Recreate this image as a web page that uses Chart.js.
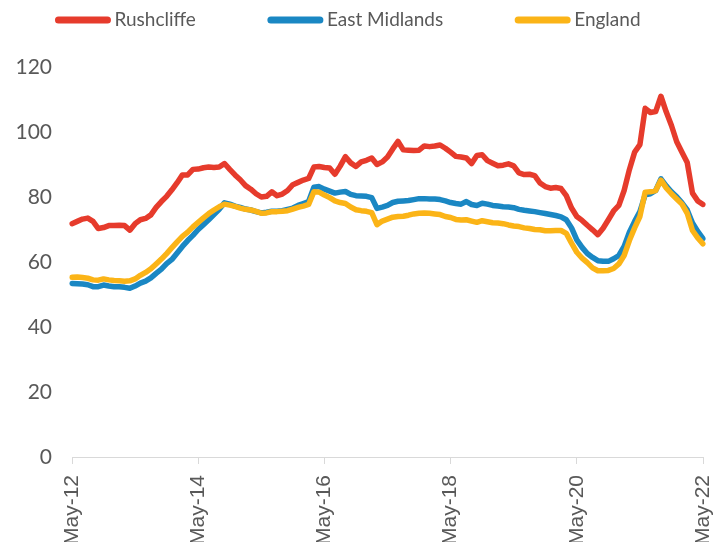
<!DOCTYPE html>
<html>
<head>
<meta charset="utf-8">
<script src="https://cdn.jsdelivr.net/npm/chart.js@4"></script>
<style>
    html, body { margin: 0; padding: 0; overflow: hidden; background: #fff; }
    canvas { display: block; }
</style>
</head>
<body>
<canvas id="chart" width="724" height="560"></canvas>
<script>
// monthly categories May-12 .. May-22
const monthNames = ['Jan', 'Feb', 'Mar', 'Apr', 'May', 'Jun', 'Jul', 'Aug', 'Sep', 'Oct', 'Nov', 'Dec'];
const categories = [];
for (let i = 0; i <= 120; i++) {
    const m = (4 + i) % 12;
    const y = 12 + Math.floor((4 + i) / 12);
    categories.push(monthNames[m] + '-' + y);
}

// ticks shown on the x axis
const tickLabels = ['May-12', 'May-14', 'May-16', 'May-18', 'May-20', 'May-22'];
const yTicks = [0, 20, 40, 60, 80, 100, 120];

const rushcliffe = [
    71.8, 72.5, 73.2, 73.5, 72.5, 70.3, 70.6, 71.2, 71.2, 71.3,
    71.2, 69.8, 71.8, 73.0, 73.4, 74.5, 76.8, 78.6, 80.2, 82.2,
    84.4, 86.8, 86.8, 88.5, 88.6, 89.0, 89.2, 89.1, 89.2, 90.3,
    88.5, 86.8, 85.3, 83.5, 82.4, 81.0, 80.0, 80.2, 81.6, 80.4,
    80.9, 82.0, 83.8, 84.5, 85.2, 85.7, 89.2, 89.4, 89.1, 88.9,
    87.0, 89.5, 92.4, 90.5, 89.4, 90.8, 91.3, 92.0, 90.0, 90.8,
    92.3, 94.8, 97.1, 94.5, 94.4, 94.3, 94.4, 95.7, 95.5, 95.7,
    96.0, 95.0, 93.8, 92.5, 92.3, 92.0, 90.3, 92.8, 93.0, 91.2,
    90.4, 89.6, 89.8, 90.2, 89.6, 87.4, 86.9, 87.0, 86.6, 84.3,
    83.2, 82.7, 82.9, 82.6, 80.4, 76.6, 74.0, 72.8, 71.3, 69.9,
    68.4, 70.4, 73.0, 75.7, 77.4, 82.0, 88.4, 93.8, 96.1, 107.3,
    106.0, 106.3, 111.0, 106.2, 102.0, 97.0, 93.8, 90.6, 81.2, 78.8,
    77.7
];

const eastMidlands = [
    53.4, 53.3, 53.2, 53.0, 52.4, 52.4, 52.9, 52.6, 52.4, 52.4,
    52.2, 51.9, 52.6, 53.5, 54.1, 55.1, 56.5, 57.8, 59.5, 60.8,
    62.8, 64.8, 66.6, 68.2, 70.0, 71.5, 73.0, 74.6, 76.2, 78.2,
    77.8, 77.2, 76.8, 76.3, 76.0, 75.5, 75.1, 75.3, 75.6, 75.6,
    75.8, 76.2, 76.6, 77.4, 78.0, 78.6, 83.0, 83.2, 82.4, 81.8,
    81.2, 81.5, 81.7, 80.8, 80.4, 80.3, 80.2, 79.8, 76.5, 76.9,
    77.4, 78.3, 78.7, 78.8, 78.9, 79.2, 79.5, 79.5, 79.4, 79.4,
    79.2, 78.8, 78.3, 78.0, 77.8, 78.6, 77.7, 77.4, 78.1, 77.8,
    77.4, 77.2, 77.0, 76.9, 76.7, 76.2, 75.9, 75.7, 75.5, 75.2,
    74.9, 74.6, 74.3, 73.9, 73.0, 70.5, 66.8, 64.5, 62.6, 61.4,
    60.4, 60.2, 60.2, 61.0, 62.0, 64.8, 69.2, 72.5, 75.5, 80.7,
    81.0, 82.0, 85.6, 83.4, 81.6, 80.1, 78.2, 76.0, 72.0, 69.4,
    67.2
];

const england = [
    55.3, 55.4, 55.2, 55.0, 54.5, 54.4, 54.8, 54.5, 54.3, 54.2,
    54.1, 54.2, 54.8, 55.9, 56.8, 57.9, 59.4, 60.9, 62.6, 64.4,
    66.2, 67.9, 69.2, 70.8, 72.2, 73.6, 74.9, 76.0, 77.0, 77.8,
    77.5, 77.1, 76.6, 76.2, 76.0, 75.6, 75.0, 75.1, 75.5, 75.5,
    75.6, 75.8, 76.3, 76.8, 77.2, 77.7, 81.6, 81.5, 80.6, 79.8,
    78.8, 78.3, 78.0, 76.9, 76.1, 75.8, 75.6, 75.2, 71.5, 72.6,
    73.2, 73.8, 74.0, 74.1, 74.4, 74.8, 75.0, 75.1, 75.0, 74.8,
    74.6, 74.0, 73.7, 73.1, 72.9, 73.0, 72.6, 72.2, 72.7, 72.4,
    72.1, 72.0, 71.8, 71.4, 71.1, 70.9, 70.5, 70.3, 70.0, 69.9,
    69.6, 69.6, 69.7, 69.7, 68.8, 65.8, 63.0, 61.2, 59.8, 58.2,
    57.3, 57.3, 57.4, 58.0, 59.4, 62.0, 66.6, 70.5, 74.0, 81.5,
    81.6, 82.0, 85.2, 82.8, 81.0, 79.4, 77.8, 75.0, 69.7, 67.4,
    65.6
];

const textColor = '#595959';

// legend drawn on the canvas, like the spreadsheet one
const topLegend = {
    id: 'topLegend',
    afterDraw (chart) {
        const ctx = chart.ctx;
        const boxW = 55;
        const gap = 4;
        const itemGap = 72;
        const y = 20;

        ctx.save();
        ctx.font = '19px Lato';
        ctx.textBaseline = 'middle';

        const items = chart.data.datasets.map(ds => ({
            text: ds.label,
            color: ds.borderColor,
            width: boxW + gap + ctx.measureText(ds.label).width
        }));
        const total = items.reduce((acc, one) => acc + one.width, 0) + itemGap * (items.length - 1);
        let x = 348 - total / 2;

        items.forEach(one => {
            ctx.strokeStyle = one.color;
            ctx.lineWidth = 7;
            ctx.lineCap = 'round';
            ctx.beginPath();
            ctx.moveTo(x + 3, y);
            ctx.lineTo(x + boxW - 3, y);
            ctx.stroke();

            ctx.fillStyle = textColor;
            ctx.fillText(one.text, x + boxW + gap, y);
            x += one.width + itemGap;
        });
        ctx.restore();
    }
};

new Chart(
    document.getElementById('chart'),
    {
        type: 'line',
        data: {
            labels: categories,
            datasets: [
                {
                    label: 'Rushcliffe',
                    data: rushcliffe,
                    borderColor: '#e63b2c',
                    order: 0
                },
                {
                    label: 'East Midlands',
                    data: eastMidlands,
                    borderColor: '#1a87c3',
                    order: 2
                },
                {
                    label: 'England',
                    data: england,
                    borderColor: '#fbb417',
                    order: 1
                }
            ]
        },
        options: {
            responsive: false,
            animation: false,
            devicePixelRatio: 1,
            layout: {
                padding: { top: 67, right: 21, left: 0, bottom: 0 }
            },
            elements: {
                point: { radius: 0 },
                line: {
                    borderWidth: 5.5,
                    tension: 0,
                    borderCapStyle: 'round',
                    borderJoinStyle: 'round'
                }
            },
            plugins: {
                legend: { display: false },
                tooltip: { enabled: false }
            },
            scales: {
                x: {
                    afterFit: scale => {
                        scale.height = 103;
                        scale.paddingLeft = 0;
                        scale.paddingRight = 0;
                    },
                    grid: {
                        display: true,
                        drawOnChartArea: false,
                        tickLength: 7,
                        color: '#d9d9d9'
                    },
                    border: { display: true, color: '#d9d9d9', width: 1 },
                    ticks: {
                        autoSkip: false,
                        maxRotation: 90,
                        minRotation: 90,
                        padding: 11,
                        color: textColor,
                        font: { family: 'Liberation Sans', size: 21 },
                        callback: (value, index) => {
                            const label = categories[index];
                            return tickLabels.includes(label) ? label : null;
                        }
                    }
                },
                y: {
                    min: 0,
                    max: 120,
                    afterFit: scale => { scale.width = 72; },
                    afterBuildTicks: scale => {
                        scale.ticks = yTicks.map(v => ({ value: v }));
                    },
                    grid: { display: false },
                    border: { display: false },
                    ticks: {
                        padding: 12,
                        color: textColor,
                        font: { family: 'Lato', size: 21 }
                    }
                }
            }
        },
        plugins: [topLegend]
    }
);
</script>
</body>
</html>
